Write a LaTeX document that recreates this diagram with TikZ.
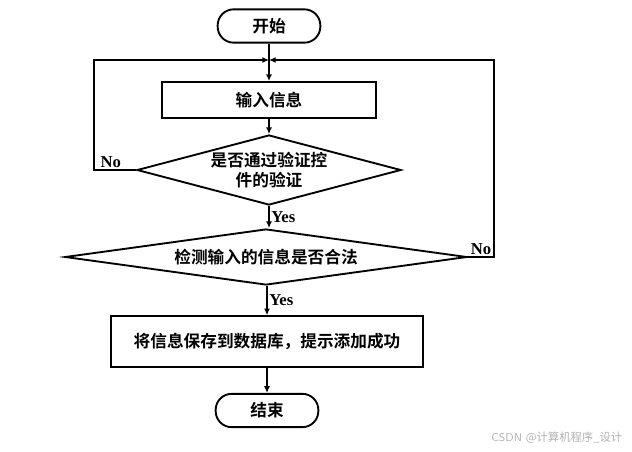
\documentclass[tikz,border=0pt]{standalone}
\usepackage{fontspec}
\setmainfont{Liberation Serif}
\newfontfamily\cjk{Noto Sans CJK SC}[BoldFont={Noto Sans CJK SC Bold}]
\usetikzlibrary{arrows.meta, shapes.geometric, positioning, calc}

\begin{document}
\begin{tikzpicture}[x=0.75pt, y=-0.75pt]
	\tikzstyle{term} = [draw, line width=1.4pt, rounded corners=12pt, minimum width=77pt, minimum height=25pt, font=\cjk\bfseries\fontsize{12.5}{15}\selectfont]
	\tikzstyle{proc} = [draw, line width=1.4pt, inner sep=0pt, font=\cjk\bfseries\fontsize{12.5}{15}\selectfont]
	\tikzstyle{dec} = [draw, line width=1.4pt, diamond, inner sep=0pt, align=center, font=\cjk\bfseries\fontsize{12.5}{15}\selectfont]
	\tikzstyle{lab} = [font=\bfseries\fontsize{12.5}{14}\selectfont, inner sep=1pt]
	\tikzstyle{flow} = [line width=1.4pt, -{Latex[length=5pt, width=4.5pt]}]
	
	\useasboundingbox (0,0) rectangle (632,451);
	
	\node[term] (start) at (269,26) {开始};
	\node[proc, minimum width=160pt, minimum height=27pt] (input) at (269,100) {输入信息};
	\node[dec, aspect=3.77, minimum width=198pt, minimum height=52.5pt] (check) at (269,170) {是否通过验证控\\件的验证};
	\node[dec, aspect=7.2, minimum width=301.5pt, minimum height=42pt] (legal) at (266,257) {检测输入的信息是否合法};
	\node[proc, minimum width=234pt, minimum height=38pt] (save) at (267,341.5) {将信息保存到数据库，提示添加成功};
	\node[term] (end) at (267,410.5) {结束};
	\coordinate (join) at (269,60);
	\coordinate (lft) at (94,60);
	\coordinate (rgt) at (494,60);
	
	\draw[flow] (start) to (input);
	\draw[flow] (input) to (check);
	\draw[flow] (check) -- node[lab, right] {Yes} (check.south |- legal.north);
	\draw[flow] (legal.south -| save.north) -- node[lab, right] {Yes} (save);
	\draw[flow] (save) to (end);
	\draw[flow] (check.west) -- node[lab, above, pos=0.6] {No} (check.west -| lft) -- (lft) -- (join);
	\draw[flow] (legal.east) -- node[lab, above] {No} (legal.east -| rgt) -- (rgt) -- (join);
	
	\node[text=black!30, font=\sffamily\fontsize{8.5}{10}\selectfont, anchor=east] (mark) at (627,438) {CSDN {\cjk @计算机程序\_设计}};
\end{tikzpicture}
\end{document}
